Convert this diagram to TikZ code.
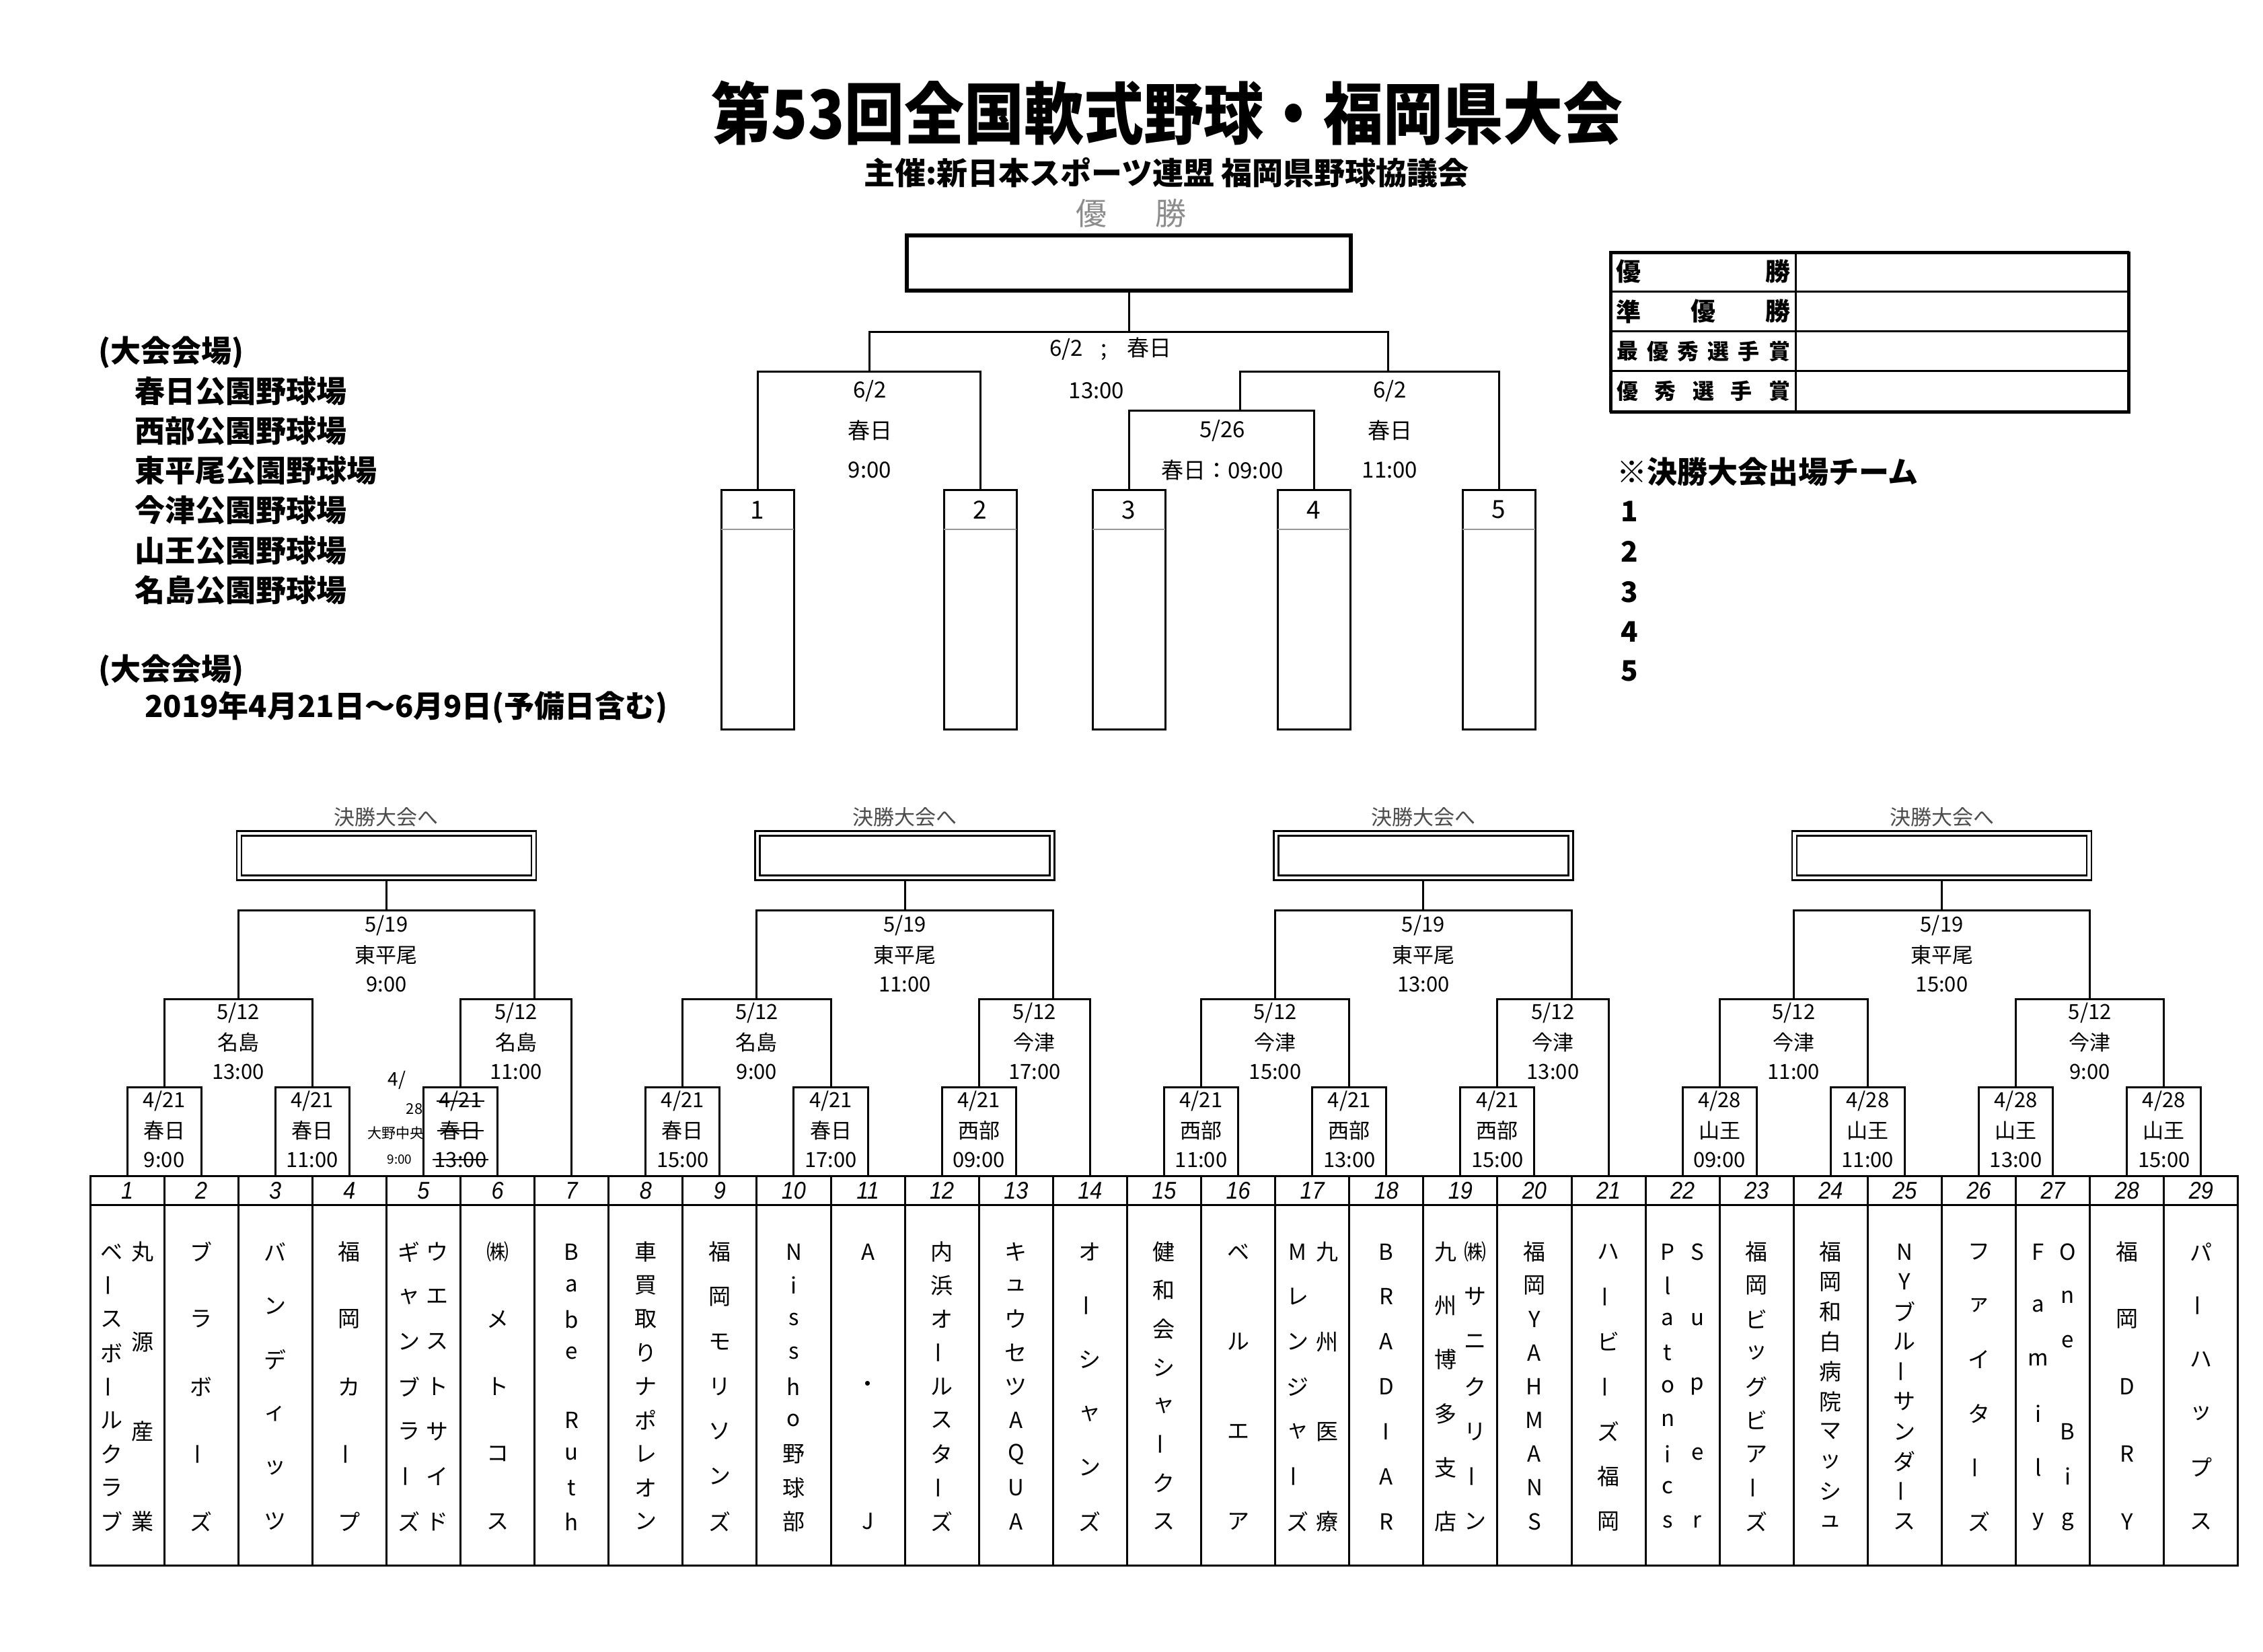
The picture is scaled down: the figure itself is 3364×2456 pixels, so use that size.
\documentclass[tikz,border=0pt]{standalone}
\usepackage{fontspec}
\setmainfont{Noto Sans CJK JP}
\newfontfamily\numit{Liberation Sans}
\newcommand\myfs[1]{\fontsize{#1}{#1}\selectfont}
\newcommand\vbar{\rotatebox{90}{ー}}
\newcommand\bx[1]{134+110.1*(#1)}
\newcommand\mbx[5]{%
  \node[mbox] (#1) at ({\bx{#2-0.5}},1748) {};
  \node[lbl] (#1a) at ({\bx{#2}},1637) {#3};
  \node[lbl] (#1b) at ({\bx{#2}},1681) {#4};
  \node[lbl] (#1c) at ({\bx{#2}},1724) {#5};}
\newcommand\trip[6]{%
  \node[lbl] (#1a) at ({#2},{#3}) {#4};
  \node[lbl] (#1b) at ({#2},{#3+43.5}) {#5};
  \node[lbl] (#1c) at ({#2},{#3+87}) {#6};}
\newcommand\grpcore[3]{%
  \coordinate (#1r2L) at ({\bx{#2+2}},1485);
  \coordinate (#1r2R) at ({\bx{#2+6}},1485);
  \coordinate (#1r3) at ({\bx{#2+4}},1353);
  \node[fbox] (#1f) at ({\bx{#2+4}},1272) {};
  \node[lbl,font=\myfs{31},text=black!70] (#1t) at ({\bx{#2+4}},1215) {決勝大会へ};
  \draw[bl] (#1m1.north) |- (#1r2L) -| (#1m2.north);
  \draw[bl] (#1m3.north) |- (#1r2R) -| (#3.north);
  \draw[bl] (#1r2L) |- (#1r3) -| (#1r2R);
  \draw[bl] (#1f.south) -- (#1r3);}
\newcommand\vcol[5]{%
  \foreach \ch [count=\k] in {#5}{%
    \node[tchar] (#1-\k) at ({134+110.1*(#2-0.5)+#3},{1861+(\k-1)*401/(#4-1)}) {\ch};
  }}
\begin{document}
\begin{tikzpicture}[x=1pt,y=-1pt,
  bl/.style={line width=3pt,line cap=rect},
  lbl/.style={inner sep=0pt,font=\myfs{31}},
  tlbl/.style={inner sep=0pt,font=\myfs{33}},
  big/.style={inner sep=0pt,font=\bfseries\myfs{45},anchor=west},
  mbox/.style={draw,line width=3pt,inner sep=0pt,outer sep=0pt,minimum width=110.1pt,minimum height=132pt,anchor=south west},
  fbox/.style={draw,double,double distance=4.5pt,line width=2.5pt,inner sep=0pt,outer sep=4.75pt,minimum width=438pt,minimum height=66pt},
  tchar/.style={inner sep=0pt,font=\myfs{33}},
  hnum/.style={inner sep=0pt,font=\numit\itshape\myfs{36}},
  cell/.style={draw,line width=3pt,inner sep=0pt,outer sep=0pt,anchor=north west},
  tbox/.style={draw,line width=3pt,inner sep=0pt,outer sep=0pt,minimum width=108pt,minimum height=356pt,anchor=north},
  rcA/.style={inner sep=0pt,font=\bfseries\myfs{37}},
  rcB/.style={inner sep=0pt,font=\bfseries\myfs{32}},
]
\fill[white] (0,0) rectangle (3364,2456);
\useasboundingbox (0,0) rectangle (3364,2456);

% ---------- heading ----------
\node[inner sep=0pt,font=\bfseries\myfs{100}] (title) at (1735,168) {\scalebox{0.89}[1]{第53回全国軟式野球・福岡県大会}};
\node[inner sep=0pt,font=\bfseries\myfs{46}] (sub) at (1734,257) {主催:新日本スポーツ連盟 福岡県野球協議会};
\node[inner sep=0pt,font=\myfs{46},text=black!45] (yu1) at (1622,317) {優};
\node[inner sep=0pt,font=\myfs{46},text=black!45] (yu2) at (1740,317) {勝};
\node[draw,line width=5.5pt,inner sep=0pt,outer sep=2.75pt,minimum width=660pt,minimum height=82pt] (champ) at (1678,391) {};

% ---------- final tournament ----------
\foreach \n/\x in {1/1126,2/1457,3/1678,4/1953,5/2228}{
  \node[tbox] (tb\n) at (\x,728) {};
  \node[inner sep=0pt,font=\myfs{37}] (tn\n) at (\x,758) {\n};
  \draw[black!40,line width=1.2pt] ([yshift=-59pt]tb\n.north west) -- ([yshift=-59pt]tb\n.north east);
}
\coordinate (q0) at (1678,493);
\coordinate (q1) at (1292,552);
\coordinate (q2) at (2063,552);
\coordinate (q3) at (1843,610);
\draw[bl] (champ.south) -- (q0);
\draw[bl] (tb1.north) |- (q1) -| (tb2.north);
\draw[bl] (q1) |- (q0) -| (q2);
\draw[bl] (tb3.north) |- (q3) -| (tb4.north);
\draw[bl] (q3) |- (q2) -| (tb5.north);
\node[tlbl] (l0) at (1651,519) {6/2\hspace{26pt};\hspace{30pt}春日};
\node[tlbl] (l1) at (1630,581) {13:00};
\node[tlbl] (l2a) at (1293,581) {6/2};
\node[tlbl] (l2b) at (1293,640) {春日};
\node[tlbl] (l2c) at (1293,699) {9:00};
\node[tlbl] (l3a) at (2066,581) {6/2};
\node[tlbl] (l3b) at (2066,640) {春日};
\node[tlbl] (l3c) at (2066,699) {11:00};
\node[tlbl] (l4a) at (1817,640) {5/26};
\node[tlbl] (l4b) at (1817,699) {春日：09:00};

% ---------- left notes ----------
\node[big] (v0) at (146,524) {(大会会場)};
\node[big] (v1) at (200,581) {春日公園野球場};
\node[big] (v2) at (200,640) {西部公園野球場};
\node[big] (v3) at (200,699) {東平尾公園野球場};
\node[big] (v4) at (200,758) {今津公園野球場};
\node[big] (v5) at (200,818) {山王公園野球場};
\node[big] (v6) at (200,877) {名島公園野球場};
\node[big] (v7) at (146,997) {(大会会場)};
\node[big] (v8) at (215,1052) {2019年4月21日～6月9日(予備日含む)};

% ---------- awards table ----------
\foreach \r in {1,...,4}{
  \node[cell,minimum width=276pt,minimum height=59.25pt] (rl\r) at (2393,{374+59.25*(\r-1)}) {};
  \node[cell,minimum width=494pt,minimum height=59.25pt] (rv\r) at (2669,{374+59.25*(\r-1)}) {};
}
\node[draw,line width=4pt,inner sep=0pt,minimum width=770pt,minimum height=237pt,anchor=north west] (rtab) at (2393,374) {};
\foreach \ch/\x [count=\k] in {優/2421,勝/2643} \node[rcA] (ra\k) at (\x,403.6) {\ch};
\foreach \ch/\x [count=\k] in {準/2421,優/2532,勝/2643} \node[rcA] (rb\k) at (\x,462.9) {\ch};
\foreach \ch/\x [count=\k] in {最/2419,優/2464.2,秀/2509.4,選/2554.6,手/2599.8,賞/2645} \node[rcB] (rc\k) at (\x,522.1) {\ch};
\foreach \ch/\x [count=\k] in {優/2419,秀/2475.5,選/2532,手/2588.5,賞/2645} \node[rcB] (rd\k) at (\x,581.4) {\ch};
\node[big] (fin) at (2403,701) {※決勝大会出場チーム};
\foreach \n/\y in {1/760,2/820,3/880,4/939,5/998} \node[inner sep=0pt,font=\bfseries\myfs{42}] (fn\n) at (2422,\y) {\n};

% ---------- team table ----------
\foreach \i in {1,...,29}{
  \node[cell,minimum width=110.1pt,minimum height=43pt] (h\i) at ({\bx{\i-1}},1748) {};
  \node[hnum] (hn\i) at ({\bx{\i-0.5}},1770) {\scalebox{0.9}[1]{\i}};
  \node[cell,minimum width=110.1pt,minimum height=536pt] (t\i) at ({\bx{\i-1}},1791) {};
}

% ---------- block 1 ----------
\mbx{g1m1}{1}{4/21}{春日}{9:00}
\mbx{g1m2}{3}{4/21}{春日}{11:00}
\mbx{g1m3}{5}{4/21}{春日}{13:00}
\grpcore{g1}{0}{h7}
\trip{g1x}{\bx{4}}{1376}{5/19}{東平尾}{9:00}
\trip{g1y}{\bx{2}}{1506}{5/12}{名島}{13:00}
\trip{g1z}{(\bx{5}+\bx{6.5})/2}{1506}{5/12}{名島}{11:00}
\draw[line width=2pt] ([xshift=-3pt]g1m3a.west) -- ([xshift=3pt]g1m3a.east);
\draw[line width=2pt] ([xshift=-3pt]g1m3b.west) -- ([xshift=3pt]g1m3b.east);
\draw[line width=2pt] ([xshift=-3pt]g1m3c.west) -- ([xshift=3pt]g1m3c.east);
\node[inner sep=0pt,font=\myfs{28}] (hw1) at (590,1606) {4/};
\node[inner sep=0pt,font=\myfs{22}] (hw2) at (616,1649) {28};
\node[inner sep=0pt,font=\myfs{21}] (hw3) at (588,1685) {大野中央};
\node[inner sep=0pt,font=\myfs{19}] (hw4) at (594,1724) {9:00};

% ---------- block 2 ----------
\mbx{g2m1}{8}{4/21}{春日}{15:00}
\mbx{g2m2}{10}{4/21}{春日}{17:00}
\mbx{g2m3}{12}{4/21}{西部}{09:00}
\grpcore{g2}{7}{h14}
\trip{g2x}{\bx{11}}{1376}{5/19}{東平尾}{11:00}
\trip{g2y}{\bx{9}}{1506}{5/12}{名島}{9:00}
\trip{g2z}{(\bx{12}+\bx{13.5})/2}{1506}{5/12}{今津}{17:00}

% ---------- block 3 ----------
\mbx{g3m1}{15}{4/21}{西部}{11:00}
\mbx{g3m2}{17}{4/21}{西部}{13:00}
\mbx{g3m3}{19}{4/21}{西部}{15:00}
\grpcore{g3}{14}{h21}
\trip{g3x}{\bx{18}}{1376}{5/19}{東平尾}{13:00}
\trip{g3y}{\bx{16}}{1506}{5/12}{今津}{15:00}
\trip{g3z}{(\bx{19}+\bx{20.5})/2}{1506}{5/12}{今津}{13:00}

% ---------- block 4 ----------
\mbx{g4m1}{22}{4/28}{山王}{09:00}
\mbx{g4m2}{24}{4/28}{山王}{11:00}
\mbx{g4m3}{26}{4/28}{山王}{13:00}
\mbx{g4m4}{28}{4/28}{山王}{15:00}
\coordinate (g4r2L) at ({\bx{23}},1485);
\coordinate (g4r2R) at ({\bx{27}},1485);
\coordinate (g4r3) at ({\bx{25}},1353);
\node[fbox] (g4f) at ({\bx{25}},1272) {};
\node[lbl,font=\myfs{31},text=black!70] (g4t) at ({\bx{25}},1215) {決勝大会へ};
\draw[bl] (g4m1.north) |- (g4r2L) -| (g4m2.north);
\draw[bl] (g4m3.north) |- (g4r2R) -| (g4m4.north);
\draw[bl] (g4r2L) |- (g4r3) -| (g4r2R);
\draw[bl] (g4f.south) -- (g4r3);
\trip{g4x}{\bx{25}}{1376}{5/19}{東平尾}{15:00}
\trip{g4y}{\bx{23}}{1506}{5/12}{今津}{11:00}
\trip{g4z}{\bx{27}}{1506}{5/12}{今津}{9:00}

% ---------- team names ----------
\vcol{n1r}{1}{23}{4}{丸,源,産,業}
\vcol{n1l}{1}{-23}{9}{ベ,\vbar,ス,ボ,\vbar,ル,ク,ラ,ブ}
\vcol{n2}{2}{0}{5}{ブ,ラ,ボ,\vbar,ズ}
\vcol{n3}{3}{0}{6}{バ,ン,デ,ィ,ッ,ツ}
\vcol{n4}{4}{0}{5}{福,岡,カ,\vbar,プ}
\vcol{n5r}{5}{21}{7}{ウ,エ,ス,ト,サ,イ,ド}
\vcol{n5l}{5}{-21}{7}{ギ,ャ,ン,ブ,ラ,\vbar,ズ}
\vcol{n6}{6}{0}{5}{㈱,メ,ト,コ,ス}
\vcol{n7}{7}{0}{9}{B,a,b,e,{},R,u,t,h}
\vcol{n8}{8}{0}{9}{車,買,取,り,ナ,ポ,レ,オ,ン}
\vcol{n9}{9}{0}{7}{福,岡,モ,リ,ソ,ン,ズ}
\vcol{n10}{10}{0}{9}{N,i,s,s,h,o,野,球,部}
\vcol{n11}{11}{0}{3}{A,・,J}
\vcol{n12}{12}{0}{9}{内,浜,オ,\vbar,ル,ス,タ,\vbar,ズ}
\vcol{n13}{13}{0}{9}{キ,ュ,ウ,セ,ツ,A,Q,U,A}
\vcol{n14}{14}{0}{6}{オ,\vbar,シ,ャ,ン,ズ}
\vcol{n15}{15}{0}{8}{健,和,会,シ,ャ,\vbar,ク,ス}
\vcol{n16}{16}{0}{4}{ベ,ル,エ,ア}
\vcol{n17r}{17}{22}{4}{九,州,医,療}
\vcol{n17l}{17}{-22}{7}{M,レ,ン,ジ,ャ,\vbar,ズ}
\vcol{n18}{18}{0}{7}{B,R,A,D,I,A,R}
\vcol{n19r}{19}{22}{7}{㈱,サ,ニ,ク,リ,\vbar,ン}
\vcol{n19l}{19}{-22}{6}{九,州,博,多,支,店}
\vcol{n20}{20}{0}{9}{福,岡,Y,A,H,M,A,N,S}
\vcol{n21}{21}{0}{7}{ハ,\vbar,ビ,\vbar,ズ,福,岡}
\vcol{n22r}{22}{22}{5}{S,u,p,e,r}
\vcol{n22l}{22}{-22}{9}{P,l,a,t,o,n,i,c,s}
\vcol{n23}{23}{0}{9}{福,岡,ビ,ッ,グ,ビ,ア,\vbar,ズ}
\vcol{n24}{24}{0}{10}{福,岡,和,白,病,院,マ,ッ,シ,ュ}
\vcol{n25}{25}{0}{10}{N,Y,ブ,ル,\vbar,サ,ン,ダ,\vbar,ス}
\vcol{n26}{26}{0}{6}{フ,ァ,イ,タ,\vbar,ズ}
\vcol{n27r}{27}{22}{7}{O,n,e,{},B,i,g}
\vcol{n27l}{27}{-22}{6}{F,a,m,i,l,y}
\vcol{n28}{28}{0}{5}{福,岡,D,R,Y}
\vcol{n29}{29}{0}{6}{パ,\vbar,ハ,ッ,プ,ス}
\end{tikzpicture}
\end{document}
